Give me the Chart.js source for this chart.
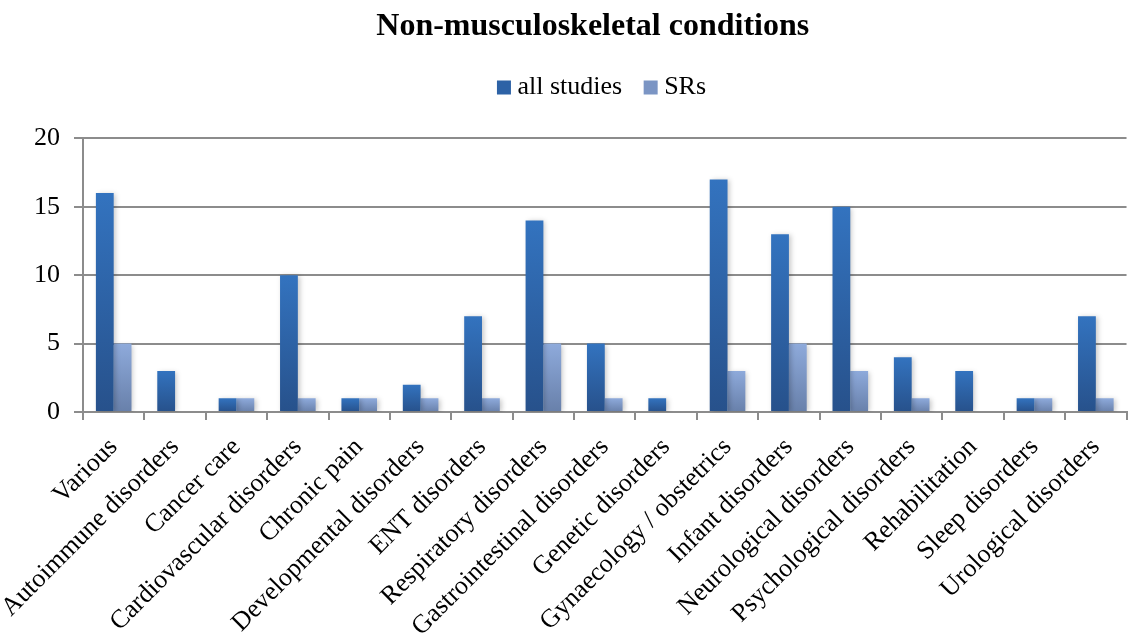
<!DOCTYPE html>
<html>
<head>
<meta charset="utf-8">
<title>Non-musculoskeletal conditions</title>
<script src="https://cdn.jsdelivr.net/npm/chart.js@4.4.1/dist/chart.umd.min.js"></script>
<style>
  html, body { margin: 0; padding: 0; background: #ffffff; }
  #wrap { width: 1130px; height: 633px; position: relative; }
</style>
</head>
<body>
<div id="wrap"><canvas id="chart"></canvas></div>
<script>
// Condition groups along the x axis
const categories = [
  'Various', 'Autoimmune disorders', 'Cancer care', 'Cardiovascular disorders',
  'Chronic pain', 'Developmental disorders', 'ENT disorders', 'Respiratory disorders',
  'Gastrointestinal disorders', 'Genetic disorders', 'Gynaecology / obstetrics',
  'Infant disorders', 'Neurological disorders', 'Psychological disorders',
  'Rehabilitation', 'Sleep disorders', 'Urological disorders'
];

// Number of studies per condition group
const allStudies = [16, 3, 1, 10, 1, 2, 7, 14, 5, 1, 17, 13, 15, 4, 3, 1, 7];
// Number of systematic reviews per condition group
const systematicReviews = [5, 0, 1, 1, 1, 1, 1, 5, 1, 0, 3, 5, 3, 1, 0, 1, 1];

// Value axis range
const yMin = 0;
const yMax = 20;
const yStep = 5;

const SERIF = "'Liberation Serif', 'Times New Roman', serif";
const GRID = '#8c8c8c';

// Vertical shading per bar: lighter at the top, darker at the base
function barGradient(topColor, bottomColor) {
  return (ctx) => {
    const chart = ctx.chart;
    const yScale = chart.scales && chart.scales.y;
    if (!chart.chartArea || ctx.type !== 'data' || !yScale) return bottomColor;
    const yTop = yScale.getPixelForValue(ctx.raw);
    const yBase = yScale.getPixelForValue(0);
    if (!isFinite(yTop) || !isFinite(yBase) || yBase - yTop < 1) return topColor;
    const g = chart.ctx.createLinearGradient(0, yTop, 0, yBase);
    g.addColorStop(0, topColor);
    g.addColorStop(1, bottomColor);
    return g;
  };
}

// Soft drop shadow behind the bars
const barShadow = {
  id: 'barShadow',
  beforeDatasetsDraw(chart) {
    const c = chart.ctx;
    c.save();
    c.shadowColor = 'rgba(0, 0, 0, 0.22)';
    c.shadowBlur = 5;
    c.shadowOffsetX = 2;
    c.shadowOffsetY = 1;
  },
  afterDatasetsDraw(chart) {
    chart.ctx.restore();
  }
};

const seriesColors = {
  all: { top: '#3373bf', bottom: '#27518b', flat: '#2d62a6' },
  srs: { top: '#8eaadb', bottom: '#6880aa', flat: '#7b95c4' }
};

new Chart(document.getElementById('chart'), {
  type: 'bar',
  data: {
    labels: categories,
    datasets: [
      {
        label: 'all studies',
        data: allStudies,
        backgroundColor: barGradient(seriesColors.all.top, seriesColors.all.bottom),
        borderWidth: 0,
        categoryPercentage: 0.58,
        barPercentage: 1.0
      },
      {
        label: 'SRs',
        data: systematicReviews,
        backgroundColor: barGradient(seriesColors.srs.top, seriesColors.srs.bottom),
        borderWidth: 0,
        categoryPercentage: 0.58,
        barPercentage: 1.0
      }
    ]
  },
  options: {
    responsive: true,
    maintainAspectRatio: false,
    animation: false,
    layout: { padding: 0 },
    plugins: {
      title: {
        display: true,
        fullSize: false,
        // trailing no-break spaces nudge the centred heading slightly left
        text: 'Non-musculoskeletal conditions\u00a0\u00a0\u00a0',
        color: '#000000',
        font: { family: SERIF, size: 32, weight: 'bold' },
        padding: { top: 8, bottom: 0 },
        weight: 2000
      },
      subtitle: {
        // empty spacer between the legend and the plot area
        display: true,
        fullSize: false,
        text: '',
        font: { size: 1 },
        padding: { top: 13.4, bottom: 13.4 },
        weight: 500
      },
      legend: {
        display: true,
        fullSize: false,
        position: 'top',
        weight: 1000,
        labels: {
          color: '#000000',
          font: { family: SERIF, size: 26 },
          usePointStyle: true,
          pointStyle: 'rect',
          boxWidth: 1,
          boxHeight: 14,
          padding: 28,
          generateLabels(chart) {
            const keys = ['all', 'srs'];
            return chart.data.datasets.map((ds, i) => ({
              text: ds.label,
              fillStyle: seriesColors[keys[i]].flat,
              strokeStyle: 'rgba(0,0,0,0)',
              lineWidth: 0,
              pointStyle: 'rect',
              hidden: !chart.isDatasetVisible(i),
              datasetIndex: i
            }));
          }
        }
      },
      tooltip: { enabled: false }
    },
    scales: {
      x: {
        type: 'category',
        offset: true,
        grid: {
          display: true,
          drawOnChartArea: false,
          drawTicks: true,
          tickLength: 8,
          color: GRID,
          lineWidth: 2,
          offset: true
        },
        border: { display: true, color: GRID, width: 2 },
        ticks: {
          autoSkip: false,
          maxRotation: 45,
          minRotation: 45,
          color: '#000000',
          padding: 12,
          font: { family: SERIF, size: 26 }
        },
        afterFit(scale) { scale.height = 221; }
      },
      y: {
        min: yMin,
        max: yMax,
        ticks: {
          stepSize: yStep,
          color: '#000000',
          padding: 14,
          font: { family: SERIF, size: 26 }
        },
        grid: {
          color: GRID,
          lineWidth: 2,
          tickLength: 9,
          drawTicks: true
        },
        border: { display: true, color: GRID, width: 2 },
        afterFit(scale) { scale.width = 83; }
      }
    }
  },
  plugins: [barShadow]
});
</script>
</body>
</html>
